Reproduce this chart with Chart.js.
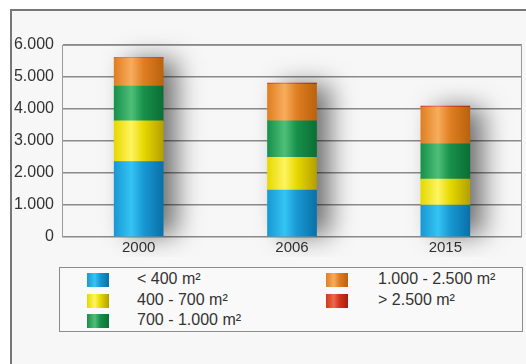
<!DOCTYPE html>
<html>
<head>
<meta charset="utf-8">
<script src="https://cdn.jsdelivr.net/npm/chart.js@4/dist/chart.umd.min.js"></script>
<style>
  body { margin: 0; width: 526px; height: 364px; overflow: hidden; background: #fff; font-family: "Liberation Sans", Arial, sans-serif; }
  .frame { position: absolute; left: 10px; top: 9px; width: 530px; height: 370px; border-left: 2px solid #777; border-top: 2px solid #777; background: #f7f7f7; }
  #wrap { position: absolute; left: 0; top: 0; width: 526px; height: 364px; }
  .legend { position: absolute; left: 59px; top: 267px; width: 462px; height: 63px; border: 1px solid #8c8c8c; background: #f9f9f9; }
  .item { position: absolute; font-size: 16px; color: #333; line-height: 18px; white-space: nowrap; }
  .sw { position: absolute; width: 22px; height: 14px; }
</style>
</head>
<body>
<div class="frame"></div>
<div id="wrap"><canvas id="chart" width="526" height="364"></canvas></div>
<div class="legend" id="legend"></div>
<script>
const years = ["2000", "2006", "2015"];
const classes = ["< 400 m²", "400 - 700 m²", "700 - 1.000 m²", "1.000 - 2.500 m²", "> 2.500 m²"];
const under400 = [2360, 1470, 1000];
const from400to700 = [1270, 1020, 810];
const from700to1000 = [1090, 1140, 1100];
const from1000to2500 = [860, 1150, 1150];
const over2500 = [30, 30, 30];
const yTicks = [0, 1000, 2000, 3000, 4000, 5000, 6000];

// left, light, dark for cylinder look
const shades = [
  ["#1898d2", "#35c4f4", "#0a70a8"],
  ["#e6d800", "#fff460", "#b4a000"],
  ["#17904a", "#4fbf78", "#0b6e34"],
  ["#e07e22", "#f7ad5c", "#b9620e"],
  ["#d2361f", "#ee6a4a", "#a81a10"]
];

function cylinder(i) {
  return function (c) {
    const chart = c.chart;
    if (!chart.chartArea) return shades[i][0];
    const meta = chart.getDatasetMeta(c.datasetIndex);
    const el = meta.data[c.dataIndex];
    const x = chart.scales.x.getPixelForValue(c.dataIndex);
    const w = el && el.width ? el.width : 49;
    const g = chart.ctx.createLinearGradient(x - w / 2, 0, x + w / 2, 0);
    g.addColorStop(0, shades[i][0]);
    g.addColorStop(0.35, shades[i][1]);
    g.addColorStop(0.6, shades[i][0]);
    g.addColorStop(1, shades[i][2]);
    return g;
  };
}

const series = [under400, from400to700, from700to1000, from1000to2500, over2500];

const shadowPlugin = {
  id: "shadow",
  beforeDatasetsDraw(chart) {
    const ctx = chart.ctx;
    const y = chart.scales.y;
    const x = chart.scales.x;
    ctx.save();
    ctx.beginPath();
    ctx.rect(chart.chartArea.left, chart.chartArea.top - 20, chart.chartArea.width, chart.chartArea.height + 40);
    ctx.clip();
    years.forEach((yr, i) => {
      const total = series.reduce((a, s) => a + s[i], 0);
      const cx = x.getPixelForValue(i);
      const top = y.getPixelForValue(total);
      const base = y.getPixelForValue(0);
      ctx.shadowColor = "rgba(0,0,0,0.55)";
      ctx.shadowBlur = 26;
      ctx.shadowOffsetX = 14;
      ctx.shadowOffsetY = -2;
      ctx.fillStyle = "#888";
      ctx.fillRect(cx - 24, top + 4, 48, base - top - 4);
    });
    ctx.restore();
  }
};

const plotBorder = {
  id: "plotBorder",
  afterDraw(chart) {
    const a = chart.chartArea;
    const ctx = chart.ctx;
    ctx.save();
    ctx.strokeStyle = "#999";
    ctx.lineWidth = 1;
    ctx.beginPath();
    ctx.moveTo(a.left, a.top + 0.5);
    ctx.lineTo(a.right - 0.5, a.top + 0.5);
    ctx.lineTo(a.right - 0.5, a.bottom);
    ctx.stroke();
    ctx.restore();
  }
};

const chart = new Chart(document.getElementById("chart"), {
  type: "bar",
  data: {
    labels: years,
    datasets: series.map((s, i) => ({
      label: classes[i],
      data: s,
      backgroundColor: cylinder(i),
      borderWidth: 0,
      barThickness: 49
    }))
  },
  options: {
    responsive: false,
    animation: false,
    layout: { padding: { top: 45, right: 4, bottom: 107, left: 0 } },
    plugins: { legend: { display: false }, tooltip: { enabled: false } },
    scales: {
      x: {
        stacked: true,
        grid: { display: false },
        border: { display: false },
        ticks: { color: "#333", font: { family: "Liberation Sans", size: 15 }, padding: -6 },
        afterFit(s) { s.height = 20; }
      },
      y: {
        stacked: true,
        min: 0,
        max: 6000,
        afterBuildTicks(s) { s.ticks = yTicks.map(v => ({ value: v })); },
        grid: { color: "#8a8a8a", lineWidth: 1.5, drawTicks: false },
        border: { display: true, color: "#999", width: 1 },
        ticks: {
          color: "#333",
          padding: 8,
          font: { family: "Liberation Sans", size: 16 },
          callback: v => v.toLocaleString("de-DE")
        },
        afterFit(s) { s.width = 62; }
      }
    }
  },
  plugins: [shadowPlugin, plotBorder]
});

// HTML legend in two columns, column-major like the reference
const legend = document.getElementById("legend");
const colX = [[27, 77], [266, 318]];
chart.data.datasets.forEach((ds, i) => {
  const col = i < 3 ? 0 : 1;
  const row = i < 3 ? i : i - 3;
  const top = 5 + row * 20.5;
  const sw = document.createElement("div");
  sw.className = "sw";
  sw.style.left = colX[col][0] + "px";
  sw.style.top = top + "px";
  sw.style.background = "linear-gradient(90deg," + shades[i][0] + " 0%," + shades[i][1] + " 35%," + shades[i][0] + " 60%," + shades[i][2] + " 100%)";
  legend.appendChild(sw);
  const t = document.createElement("div");
  t.className = "item";
  t.style.left = colX[col][1] + "px";
  t.style.top = (top - 3) + "px";
  t.textContent = ds.label;
  legend.appendChild(t);
});
</script>
</body>
</html>
